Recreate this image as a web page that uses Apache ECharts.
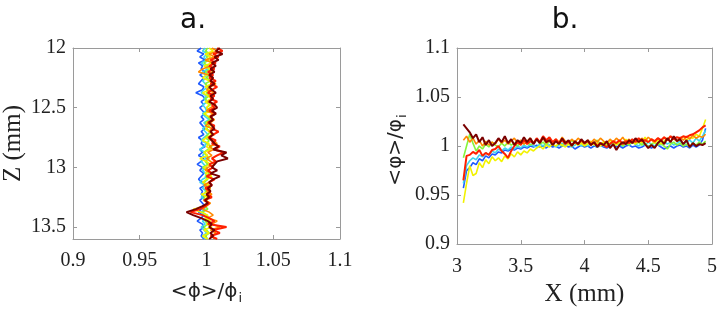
<!DOCTYPE html>
<html><head><meta charset="utf-8">
<script src="https://cdn.jsdelivr.net/npm/echarts@6/dist/echarts.min.js"></script>
<style>html,body{margin:0;padding:0;background:#fff}#c{width:720px;height:312px}</style>
</head><body><div id="c"></div>
<script>
// ---------- Panel a: <phi>/phi_i versus Z (mm) ----------
const zA = [12.000,12.025,12.050,12.075,12.100,12.125,12.150,12.175,12.200,12.225,
12.250,12.275,12.300,12.325,12.350,12.375,12.400,12.425,12.450,12.475,
12.500,12.525,12.550,12.575,12.600,12.625,12.650,12.675,12.700,12.725,
12.750,12.775,12.800,12.825,12.850,12.875,12.900,12.925,12.950,12.975,
13.000,13.025,13.050,13.075,13.100,13.125,13.150,13.175,13.200,13.225,
13.250,13.275,13.300,13.325,13.350,13.375,13.400,13.425,13.450,13.475,
13.500,13.525,13.550,13.575,13.600];
const aBlue = [0.996,0.993,0.998,0.995,0.999,0.994,0.997,0.996,0.999,0.995,
0.998,0.996,0.994,0.998,0.997,0.992,0.997,0.999,0.996,0.998,
0.995,0.997,0.999,0.996,0.998,0.995,0.997,0.999,0.996,0.998,
0.994,0.997,0.996,0.999,0.995,0.997,0.994,0.998,0.996,0.993,
0.997,0.995,0.998,0.996,0.994,0.997,0.999,0.995,0.997,0.996,
0.998,0.995,0.997,0.999,0.996,0.994,0.998,0.996,0.993,0.997,
0.998,0.995,0.997,0.996,0.998];
const aCyan = [0.999,0.997,1.001,0.998,1.000,0.996,0.999,1.001,0.997,0.999,
1.000,0.997,0.999,1.001,0.998,0.996,1.000,0.998,1.001,0.997,
0.999,1.000,0.997,0.999,1.002,0.998,1.000,0.997,0.999,1.001,
0.998,0.996,1.000,0.998,0.995,0.999,0.997,1.000,0.996,0.998,
1.000,0.997,0.999,1.001,0.997,0.995,0.999,0.997,1.000,0.998,
0.996,0.999,1.001,0.997,0.999,0.996,0.998,1.000,0.997,0.999,
0.996,0.998,1.000,0.997,0.999];
const aGreen = [1.001,0.999,1.003,1.000,1.002,0.998,1.001,1.003,0.999,1.002,
1.000,1.003,0.999,1.001,1.004,1.000,1.002,0.999,1.001,1.003,
1.000,1.002,0.998,1.001,1.003,0.999,1.002,1.000,1.003,1.001,
0.999,1.002,1.000,1.004,1.001,0.998,1.000,1.002,0.999,1.001,
0.997,1.000,1.002,0.999,1.001,0.998,1.000,1.003,0.999,1.001,
0.998,1.000,1.002,0.999,1.001,0.997,1.000,1.002,0.999,1.001,
0.998,1.000,1.002,0.999,1.001];
const aYellow = [1.002,1.005,0.999,1.003,1.000,1.004,0.998,1.002,1.005,1.000,
0.997,1.002,1.004,0.999,1.003,0.997,1.001,1.004,0.999,1.002,
1.000,1.004,0.998,1.002,1.005,1.000,1.003,0.999,1.002,1.004,
1.000,0.997,1.002,1.000,1.003,0.998,1.001,0.995,1.000,1.003,
0.998,1.002,0.999,1.004,1.000,0.997,1.002,0.999,1.003,0.996,
1.001,0.998,1.002,0.999,0.990,0.996,1.001,0.999,1.003,1.000,
1.004,0.998,1.002,0.997,1.001];
const aOrange = [1.004,1.008,1.002,1.006,0.999,1.005,1.003,0.997,0.994,1.001,
1.005,1.002,1.007,1.003,1.000,1.006,1.002,1.005,1.001,1.007,
1.003,1.000,1.005,1.002,1.006,1.003,0.999,1.004,1.002,1.006,
1.001,1.004,1.008,1.002,1.005,1.001,1.004,1.000,1.003,1.006,
1.001,0.999,1.004,1.001,1.005,1.002,0.998,1.003,1.000,1.004,
1.001,0.999,1.003,1.000,0.997,1.002,1.005,1.001,1.008,1.004,
1.010,1.003,1.007,1.004,1.006];
const aRed = [1.008,1.012,1.005,1.009,1.003,1.007,1.002,1.006,1.001,1.005,
1.002,1.007,1.003,1.008,1.004,1.001,1.006,1.003,1.008,1.004,
1.006,1.002,1.007,1.003,1.005,1.001,1.006,1.004,1.009,1.005,
1.002,1.007,1.004,1.010,1.006,1.013,1.008,1.004,1.007,1.002,
1.005,1.001,1.004,1.000,1.006,1.002,1.004,0.999,1.003,1.001,
1.004,0.998,1.002,0.999,0.995,0.988,0.997,1.002,1.006,1.001,
1.015,1.005,1.010,1.003,1.008];
const aDarkRed = [1.010,1.007,1.012,1.006,1.009,1.004,1.007,1.003,1.006,1.002,
1.005,1.003,1.006,1.002,1.004,1.007,1.003,1.005,1.002,1.006,
1.008,1.004,1.007,1.003,1.005,1.002,1.004,1.006,1.003,1.005,
1.002,1.004,1.006,1.009,1.005,1.015,1.011,1.016,1.008,1.006,
1.004,1.008,1.003,1.010,1.005,1.002,1.004,1.001,1.003,1.000,
1.002,0.999,1.001,0.997,0.992,0.985,0.990,0.996,1.001,1.004,
1.002,1.006,1.003,1.005,1.002];

// ---------- Panel b: <phi>/phi_i versus X (mm) ----------
const xB = [3.050,3.075,3.100,3.125,3.150,3.175,3.200,3.225,3.250,3.275,
3.300,3.325,3.350,3.375,3.400,3.425,3.450,3.475,3.500,3.525,
3.550,3.575,3.600,3.625,3.650,3.675,3.700,3.725,3.750,3.775,
3.800,3.825,3.850,3.875,3.900,3.925,3.950,3.975,4.000,4.025,
4.050,4.075,4.100,4.125,4.150,4.175,4.200,4.225,4.250,4.275,
4.300,4.325,4.350,4.375,4.400,4.425,4.450,4.475,4.500,4.525,
4.550,4.575,4.600,4.625,4.650,4.675,4.700,4.725,4.750,4.775,
4.800,4.825,4.850,4.875,4.900,4.925,4.950];
const bBlue = [0.957,0.975,0.978,0.983,0.981,0.987,0.985,0.990,0.988,0.992,
0.991,0.994,0.993,0.996,0.995,0.997,0.996,0.998,0.997,0.999,
0.998,1.000,0.999,1.001,0.999,1.000,0.998,1.001,0.999,1.000,
0.998,1.000,1.001,0.999,1.000,0.997,0.999,1.001,0.999,1.000,
0.998,1.000,0.999,1.001,0.999,0.998,1.000,1.001,0.999,1.000,
0.998,1.000,1.001,0.999,1.000,0.998,0.999,1.001,1.000,0.998,
1.000,1.001,0.999,0.997,0.999,1.000,0.998,1.000,1.001,0.999,
1.000,0.998,1.001,0.999,1.001,1.006,1.018];
const bCyan = [0.962,0.980,0.985,0.988,0.986,0.991,0.989,0.993,0.991,0.995,
0.993,0.997,0.995,0.998,0.996,0.999,0.997,1.000,0.998,1.001,
0.999,1.002,1.000,0.999,1.002,1.000,1.003,1.000,1.002,0.999,
1.001,1.003,1.000,1.002,0.999,1.001,1.003,1.000,1.002,1.000,
1.003,1.001,0.999,1.002,1.000,1.003,1.001,1.004,1.001,1.002,
1.000,1.003,1.001,1.004,1.002,1.000,1.003,1.001,1.004,1.002,
1.000,1.003,1.001,1.005,1.002,1.004,1.001,1.003,1.005,1.002,
1.004,1.006,1.003,1.008,1.005,1.010,1.016];
const bGreen = [0.988,1.000,1.012,1.003,0.995,1.000,0.997,1.002,0.999,1.004,
1.001,0.999,1.003,1.000,1.004,1.001,1.003,1.000,1.005,1.002,
1.004,1.001,1.003,1.007,1.002,1.004,1.001,1.005,1.002,1.006,
1.003,1.000,1.004,1.002,1.006,1.003,1.001,1.005,1.002,1.004,
1.001,1.003,1.006,1.002,1.004,1.001,1.003,1.005,1.002,1.004,
1.000,1.003,1.001,1.005,1.002,1.004,1.001,1.003,0.999,1.002,
1.004,1.001,1.003,1.000,0.997,1.002,1.004,1.001,1.003,1.000,
1.002,0.999,1.003,1.001,1.004,1.002,1.005];
const bYellow = [0.942,0.962,0.980,0.970,0.972,0.983,0.978,0.986,0.982,0.989,
0.985,0.988,0.984,0.990,0.987,0.992,0.989,0.994,0.991,0.995,
0.993,0.997,0.995,0.998,1.000,0.997,1.001,0.999,1.002,1.000,
1.003,1.001,0.999,1.002,1.000,1.004,1.001,1.003,1.000,1.002,
1.005,1.001,1.003,1.000,1.004,1.002,1.006,1.003,1.001,1.004,
1.002,1.007,1.003,1.005,1.002,1.006,1.003,1.009,1.004,1.007,
1.003,1.006,1.002,1.005,1.008,1.004,1.009,1.005,1.007,1.010,
1.006,1.009,1.008,1.012,1.010,1.018,1.027];
const bOrange = [1.006,1.010,1.004,1.008,1.002,1.006,1.000,1.005,1.001,1.004,
1.002,1.007,1.003,1.006,1.002,1.005,1.008,1.003,1.006,1.002,
1.005,1.008,1.003,1.007,1.004,1.008,1.003,1.006,1.002,1.007,
1.004,1.009,1.005,1.003,1.007,1.004,1.008,1.005,1.002,1.006,
1.003,1.007,1.004,1.008,1.005,1.003,1.007,1.004,1.008,1.005,
1.009,1.004,1.007,1.003,1.006,1.004,1.008,1.005,1.009,1.006,
1.004,1.008,1.005,1.009,1.006,1.010,1.007,1.005,1.009,1.006,
1.010,1.007,1.011,1.008,1.010,1.009,1.012];
const bRed = [0.965,0.990,0.991,0.994,0.992,0.996,0.990,0.993,0.991,0.996,
0.997,1.000,0.995,0.992,0.988,0.995,1.000,1.004,1.001,1.006,
1.002,1.005,1.003,1.008,1.004,1.010,1.006,1.009,1.004,1.007,
1.003,1.006,1.002,1.005,1.001,1.004,1.002,1.006,1.003,1.005,
1.001,1.004,1.000,1.003,1.001,0.999,1.002,1.005,1.003,1.006,
1.002,1.005,1.003,1.007,1.004,1.008,1.005,1.006,1.004,1.007,
1.005,1.008,1.006,1.009,1.006,1.010,1.007,1.009,1.008,1.010,
1.009,1.011,1.012,1.014,1.016,1.019,1.021];
const bDarkRed = [1.022,1.018,1.014,1.008,1.012,1.004,1.009,1.001,1.006,1.000,
1.003,1.008,1.004,1.010,1.003,1.007,1.001,1.006,1.003,1.009,
1.004,1.008,1.002,1.007,1.003,1.009,1.004,1.006,1.001,1.005,
1.002,1.008,1.003,1.006,1.000,1.005,1.002,1.007,1.003,1.006,
1.001,1.004,0.999,1.003,1.001,1.005,0.998,1.002,0.996,1.001,
1.004,1.002,1.006,1.003,1.008,1.004,1.007,1.002,0.998,1.001,
0.998,1.003,1.006,1.002,1.008,1.004,1.010,1.005,1.007,1.002,
1.006,0.999,1.003,1.000,1.002,1.001,1.003];

// tick values
const ticksAx = [0.9, 0.95, 1, 1.05, 1.1];
const ticksAz = [12, 12.5, 13, 13.5];
const ticksBx = [3, 3.5, 4, 4.5, 5];
const ticksBy = [0.9, 0.95, 1, 1.05, 1.1];

const colors = ['#1f5bff', '#3fd6ee', '#86f53a', '#f2f200', '#ff8a00', '#ff2000', '#7a0000'];
const seriesA = [aBlue, aCyan, aGreen, aYellow, aOrange, aRed, aDarkRed];
const seriesB = [bBlue, bCyan, bGreen, bYellow, bOrange, bRed, bDarkRed];

const serif = '"Liberation Serif", "DejaVu Serif", serif';
const sans = '"DejaVu Sans", "Liberation Sans", sans-serif';
const axisGray = '#9a9a9a';
const labelStyle = { fontFamily: serif, fontSize: 20, color: '#222' };

function mainAxis(extra) {
  return Object.assign({
    type: 'value',
    axisLine: { show: true, lineStyle: { color: axisGray, width: 1 } },
    axisTick: { show: true, inside: true, length: 4, lineStyle: { color: axisGray } },
    splitLine: { show: false },
    axisLabel: Object.assign({ show: true }, labelStyle)
  }, extra);
}
function mirrorAxis(extra) {
  return Object.assign({
    type: 'value',
    axisLine: { show: true, lineStyle: { color: axisGray, width: 1 } },
    axisTick: { show: true, inside: true, length: 4, lineStyle: { color: axisGray } },
    splitLine: { show: false },
    axisLabel: { show: false }
  }, extra);
}

const chart = echarts.init(document.getElementById('c'), null, { renderer: 'canvas' });
const series = [];
seriesA.forEach((arr, k) => {
  series.push({
    type: 'line', xAxisIndex: 0, yAxisIndex: 0, showSymbol: false, animation: false,
    data: arr.map((v, i) => [v, zA[i]]),
    lineStyle: { color: colors[k], width: k >= 5 ? 2 : 1.6 }, itemStyle: { color: colors[k] },
    z: 2 + k
  });
});
seriesB.forEach((arr, k) => {
  series.push({
    type: 'line', xAxisIndex: 2, yAxisIndex: 2, showSymbol: false, animation: false,
    data: arr.map((v, i) => [xB[i], v]),
    lineStyle: { color: colors[k], width: k >= 5 ? 2 : 1.6 }, itemStyle: { color: colors[k] },
    z: 2 + k
  });
});

const subRich = { s: { fontFamily: sans, fontSize: 13, color: '#222', padding: [14, 0, 0, 1] } };

chart.setOption({
  animation: false,
  backgroundColor: '#fff',
  title: [
    { text: 'a.', left: 188, top: 2, textAlign: 'center', textStyle: { fontFamily: sans, fontSize: 28, fontWeight: 'normal', color: '#111' } },
    { text: 'b.', left: 560, top: 2, textAlign: 'center', textStyle: { fontFamily: sans, fontSize: 28, fontWeight: 'normal', color: '#111' } }
  ],
  graphic: [
    { type: 'text', x: 396, y: 150, rotation: Math.PI / 2, z: 10,
      style: { text: '<φ>/φ{s|i}', fontFamily: sans, fontSize: 20, fill: '#222',
        align: 'center', verticalAlign: 'middle', rich: subRich } }
  ],
  grid: [
    { left: 72, top: 48, width: 268, height: 191 },
    { left: 457, top: 48, width: 256, height: 201 }
  ],
  xAxis: [
    mainAxis({ gridIndex: 0, position: 'bottom', min: 0.9, max: 1.1, interval: 0.05,
      axisLabel: Object.assign({ customValues: ticksAx, margin: 12 }, labelStyle),
      axisTick: { show: true, inside: true, length: 4, customValues: ticksAx, lineStyle: { color: axisGray } },
      name: '<ϕ>/ϕ{s|i}', nameLocation: 'middle', nameGap: 39,
      nameTextStyle: { fontFamily: sans, fontSize: 20, color: '#222', rich: subRich } }),
    mirrorAxis({ gridIndex: 0, position: 'top', min: 0.9, max: 1.1, interval: 0.05 }),
    mainAxis({ gridIndex: 1, position: 'bottom', min: 3, max: 5, interval: 0.5,
      axisLabel: Object.assign({ customValues: ticksBx, margin: 13 }, labelStyle),
      axisTick: { show: true, inside: true, length: 4, customValues: ticksBx, lineStyle: { color: axisGray } },
      name: 'X (mm)', nameLocation: 'middle', nameGap: 37,
      nameTextStyle: { fontFamily: serif, fontSize: 25, color: '#222' } }),
    mirrorAxis({ gridIndex: 1, position: 'top', min: 3, max: 5, interval: 0.5 })
  ],
  yAxis: [
    mainAxis({ gridIndex: 0, position: 'left', min: 12, max: 13.6, inverse: true, interval: 0.5,
      axisLabel: Object.assign({ customValues: ticksAz, margin: 7 }, labelStyle),
      axisTick: { show: true, inside: true, length: 4, customValues: ticksAz, lineStyle: { color: axisGray } },
      name: 'Z (mm)', nameLocation: 'middle', nameGap: 47, nameRotate: 90,
      nameTextStyle: { fontFamily: serif, fontSize: 25, color: '#222' } }),
    mirrorAxis({ gridIndex: 0, position: 'right', min: 12, max: 13.6, inverse: true, interval: 0.5,
      axisTick: { show: true, inside: true, length: 4, customValues: ticksAz, lineStyle: { color: axisGray } } }),
    mainAxis({ gridIndex: 1, position: 'left', min: 0.9, max: 1.1, interval: 0.05,
      axisLabel: Object.assign({ customValues: ticksBy, margin: 7 }, labelStyle),
      axisTick: { show: true, inside: true, length: 4, customValues: ticksBy, lineStyle: { color: axisGray } } }),
    mirrorAxis({ gridIndex: 1, position: 'right', min: 0.9, max: 1.1, interval: 0.05 })
  ],
  series: series
});
</script>
</body></html>
